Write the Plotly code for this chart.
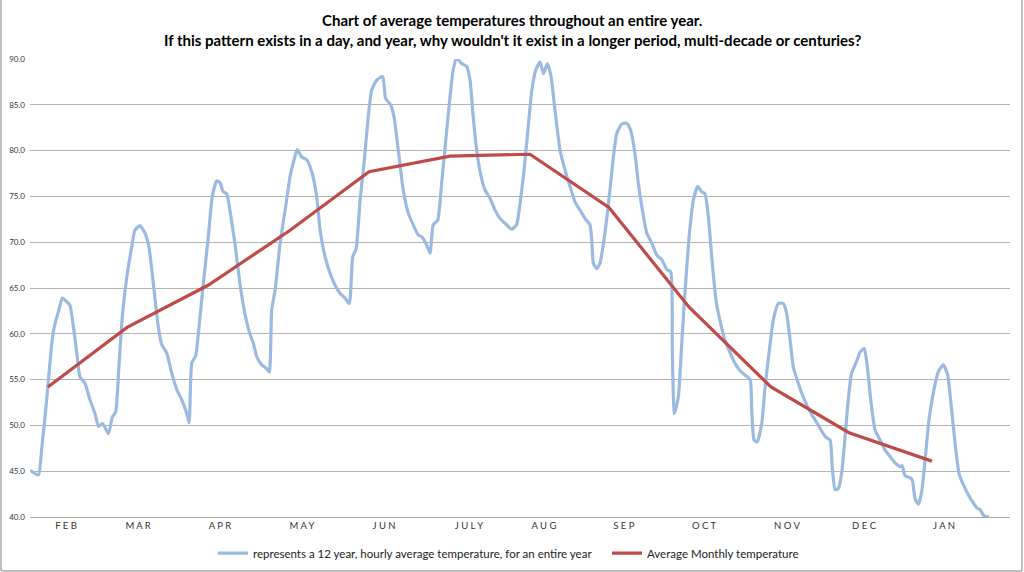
import plotly.graph_objects as go

# Blue series: hourly 12-year average temperature (day of year, deg F)
blue_day = [0.0, 3.2, 4.4, 5.7, 7.0, 8.3, 9.5, 10.8, 12.3, 14.0, 15.2, 16.5, 17.8, 19.0, 20.9,
            22.8, 24.7, 26.0, 27.6, 29.8, 31.3, 32.6, 33.8, 35.1, 36.8, 38.7, 39.9, 41.8, 43.7,
            45.2, 46.9, 48.6, 50.1, 52.0, 53.9, 55.8, 57.7, 59.6, 60.5, 61.5, 63.0, 64.0, 65.9,
            67.8, 69.3, 71.0, 72.2, 73.5, 74.8, 76.0, 77.9, 79.8, 81.7, 83.6, 84.9, 86.2, 88.1,
            90.0, 91.0, 91.9, 93.2, 95.1, 97.0, 98.9, 100.4, 101.6, 103.3, 105.2, 107.1, 109.0,
            110.3, 112.2, 114.1, 116.0, 117.9, 119.8, 121.4, 122.7, 124.0, 125.5, 127.0, 128.6,
            129.9, 131.8, 134.1, 135.2, 137.1, 138.4, 140.0, 141.9, 143.8, 145.7, 147.6, 148.9,
            150.8, 152.1, 153.3, 155.0, 156.5, 158.1, 159.7, 160.9, 162.2, 164.1, 166.0, 167.3,
            168.5, 169.8, 171.5, 173.0, 174.9, 176.8, 178.7, 181.2, 183.1, 185.0, 186.3, 187.6,
            189.2, 190.8, 192.3, 193.9, 195.2, 196.7, 198.1, 199.6, 201.5, 203.4, 205.3, 207.2,
            209.1, 211.0, 212.9, 213.6, 214.2, 215.5, 216.7, 218.6, 220.5, 221.8, 223.1, 225.0,
            226.9, 228.4, 230.0, 231.3, 232.6, 234.5, 236.4, 238.3, 240.2, 242.1, 243.6, 244.2,
            245.0, 246.5, 247.8, 249.0, 250.6, 252.2, 253.9, 255.4, 256.6, 257.9, 259.2, 260.8,
            262.3, 264.2, 266.1, 268.0, 269.9, 271.8, 273.8, 274.4, 275.3, 276.5, 278.2, 279.5,
            281.1, 282.6, 284.5, 286.4, 287.7, 289.0, 290.2, 292.1, 294.0, 296.6, 298.5, 300.4,
            302.3, 304.2, 305.0, 306.1, 307.3, 308.6, 309.9, 311.1, 312.4, 314.3, 315.6, 317.2,
            318.5, 319.8, 321.3, 323.2, 325.1, 327.0, 328.9, 330.8, 331.6, 332.7, 334.6, 335.5,
            336.5, 337.8, 339.1, 340.3, 341.8, 343.4, 345.4, 347.3, 348.9, 350.4, 352.0, 353.2,
            354.9, 356.8, 358.7, 360.0, 361.2, 362.5, 363.8, 364.6]
blue_temp = [45.1, 44.6, 47.3, 50.9, 54.9, 59.0, 61.1, 62.4, 63.9, 63.5, 63.1, 60.8, 57.9, 55.3, 54.6,
             52.8, 51.3, 49.9, 50.2, 49.1, 50.9, 51.5, 56.4, 61.9, 66.2, 69.5, 71.3, 71.8, 71.0,
             69.5, 65.5, 61.1, 58.8, 57.9, 55.7, 53.9, 52.8, 51.3, 50.3, 56.8, 57.6, 60.0, 65.5,
             70.6, 75.0, 76.7, 76.5, 75.5, 75.3, 73.5, 69.9, 65.5, 62.2, 60.0, 59.0, 57.5, 56.6,
             56.2, 55.8, 62.6, 64.8, 69.9, 73.5, 77.2, 79.0, 80.1, 79.3, 79.0, 77.7, 75.0,
             71.3, 68.4, 66.6, 65.3, 64.4, 63.9, 63.3, 68.4, 69.3, 74.6, 78.6, 83.7,
             86.6, 87.7, 88.1, 85.7, 85.0, 83.7, 80.1, 75.7, 73.2, 71.9, 70.8, 70.6,
             69.7, 68.8, 71.9, 72.4, 76.4, 81.2, 85.9, 88.8, 90.1, 89.5, 89.2, 87.7,
             83.7, 80.1, 77.2, 75.7, 74.8, 73.5, 72.6, 71.9, 71.4, 71.9, 74.2, 77.2,
             81.9, 86.6, 88.8, 89.7, 88.4, 89.5, 88.1, 84.4, 80.1, 77.9, 76.1, 74.4,
             73.5, 72.6, 71.9, 70.2, 67.7, 67.1, 67.7, 71.0, 75.7, 79.3, 81.9, 82.9,
             83.0, 82.2, 79.7, 76.4, 73.9, 71.0, 69.9, 68.6, 68.1, 67.0, 66.8, 58.2,
             51.3, 53.1, 59.0, 64.4, 70.6, 74.6, 76.1, 75.5, 75.3, 72.8, 68.4, 63.7,
             61.5, 59.3, 58.0, 56.8, 56.0, 55.5, 55.0, 51.7, 48.4, 48.2, 50.2, 54.2,
             58.2, 61.5, 63.3, 63.3, 62.2, 59.3, 56.4, 54.6, 53.1, 51.5, 50.6, 49.7,
             48.8, 48.4, 45.5, 43.0, 43.1, 44.8, 48.8, 52.8, 55.7, 57.0, 58.0, 58.4,
             56.0, 52.4, 49.5, 48.4, 47.3, 46.6, 45.9, 45.5, 45.6, 44.5, 44.3, 44.0,
             42.0, 41.4, 42.9, 46.2, 50.6, 53.5, 55.9, 56.6, 55.5, 51.7, 47.3, 44.8,
             43.5, 42.4, 41.5, 41.0, 40.8, 40.2, 40.0, 40.1]

# Red series: average monthly temperature
red_day = [6.8, 36.9, 67.7, 98.9, 128.9, 159.7, 190.1, 220.1, 250.6, 281.7, 311.4, 342.9]
red_temp = [54.2, 60.7, 65.3, 71.3, 77.7, 79.4, 79.6, 73.8, 62.9, 54.2, 49.2, 46.1]

# Month labels
month_day = [13.7, 41.1, 72.2, 103.4, 134.6, 166.9, 195.4, 225.8, 256.3, 287.8, 317.1, 347.5]
month_labels = ["F\u00a0E\u00a0B", "M\u00a0A\u00a0R", "A\u00a0P\u00a0R", "M\u00a0A\u00a0Y",
                "J\u00a0U\u00a0N", "J\u00a0U\u00a0L\u00a0Y", "A\u00a0U\u00a0G", "S\u00a0E\u00a0P",
                "O\u00a0C\u00a0T", "N\u00a0O\u00a0V", "D\u00a0E\u00a0C", "J\u00a0A\u00a0N"]

y_ticks = [40, 45, 50, 55, 60, 65, 70, 75, 80, 85, 90]

title_lines = ["Chart of average temperatures throughout an entire year.",
               "If this pattern exists in a day, and year, why wouldn't it exist in a longer period, multi-decade or centuries?"]

fig = go.Figure()
fig.add_trace(go.Scatter(
    x=blue_day, y=blue_temp, mode="lines",
    name="represents a 12 year, hourly average temperature, for an entire year",
    line=dict(color="#9bbadf", width=3.2, shape="spline", smoothing=0.5),
    legend="legend",
))
fig.add_trace(go.Scatter(
    x=red_day, y=red_temp, mode="lines",
    name="Average Monthly temperature",
    line=dict(color="#be4b48", width=3.2),
    legend="legend2",
))

legend_common = dict(orientation="h", yanchor="middle", y=-0.079, xanchor="left",
                     font=dict(size=11.5, color="#222222"), itemwidth=30,
                     bgcolor="rgba(0,0,0,0)", borderwidth=0)

fig.update_layout(
    width=1024, height=572,
    margin=dict(l=30, r=14, t=59, b=55, autoexpand=False),
    paper_bgcolor="white", plot_bgcolor="white",
    font=dict(family="Lato, Open Sans, sans-serif", color="#222222"),
    xaxis=dict(
        range=[0, 372.6], tickmode="array", tickvals=month_day, ticktext=month_labels,
        showgrid=False, zeroline=False, showline=True, linecolor="#aaaaaa", linewidth=1,
        ticks="", tickfont=dict(size=9.5, color="#333333"), automargin=False,
    ),
    yaxis=dict(
        range=[40, 90], tickmode="array", tickvals=y_ticks, tickformat=".1f",
        showgrid=True, gridcolor="#b3b3b3", gridwidth=1, zeroline=False,
        showline=False, ticks="", tickfont=dict(size=8, color="#333333"), automargin=False,
        ticklabelstandoff=4,
    ),
    legend=dict(x=0.1867, **legend_common),
    legend2=dict(x=0.5888, **legend_common),
    showlegend=True,
    annotations=[
        dict(text="<b>" + title_lines[0] + "</b>", xref="paper", yref="paper", x=0.492, y=1.0852,
             xanchor="center", yanchor="middle", showarrow=False,
             font=dict(family="Lato, Open Sans, sans-serif", size=15, color="#000000")),
        dict(text="<b>" + title_lines[1] + "</b>", xref="paper", yref="paper", x=0.492, y=1.0415,
             xanchor="center", yanchor="middle", showarrow=False,
             font=dict(family="Lato, Open Sans, sans-serif", size=15, color="#000000")),
    ],
    shapes=[
        dict(type="line", xref="paper", yref="paper", x0=-0.0296, x1=-0.0296, y0=-0.118, y1=1.13,
             line=dict(color="#aaaaaa", width=1.5)),
        dict(type="line", xref="paper", yref="paper", x0=-0.0296, x1=1.0122, y0=-0.118, y1=-0.118,
             line=dict(color="#aaaaaa", width=1.5)),
        dict(type="line", xref="paper", yref="paper", x0=1.0122, x1=1.0122, y0=-0.118, y1=1.13,
             line=dict(color="#aaaaaa", width=1.5)),
    ],
)

fig.write_html("out.html", config={"displayModeBar": False},
               post_script="document.body.style.margin='0';document.body.style.overflow='hidden';")
